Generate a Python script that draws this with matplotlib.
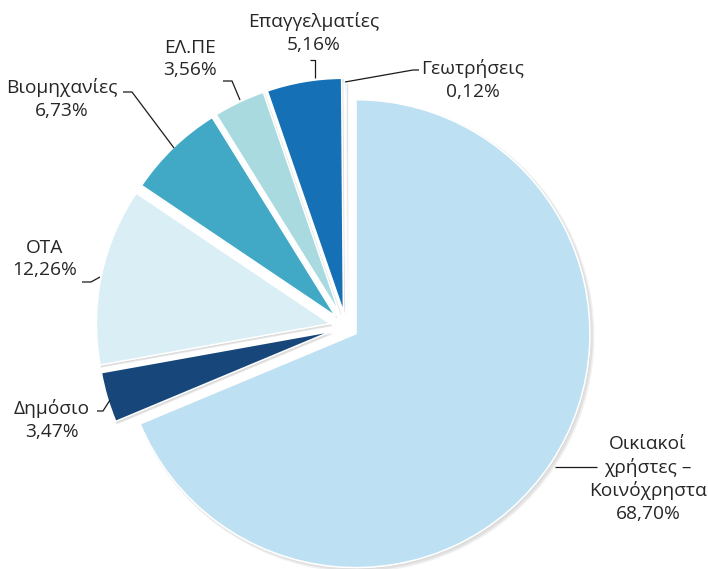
import matplotlib
matplotlib.use("Agg")
import matplotlib.pyplot as plt
import numpy as np

categories = ["Οικιακοί\nχρήστες –\nΚοινόχρηστα", "Δημόσιο", "ΟΤΑ", "Βιομηχανίες",
              "ΕΛ.ΠΕ", "Επαγγελματίες", "Γεωτρήσεις"]
values = [68.70, 3.47, 12.26, 6.73, 3.56, 5.16, 0.12]
pct_labels = ["68,70%", "3,47%", "12,26%", "6,73%", "3,56%", "5,16%", "0,12%"]
colors = ["#BDE0F3", "#17477A", "#DAEEF5", "#41A9C5", "#A9DAE0", "#1670B5", "#1B2A38"]
# explode offsets in pixel units (axes data units are pixels)
explode = [12, 15, 16, 15, 15, 15, 10]

plt.rcParams['font.family'] = ['Open Sans', 'DejaVu Sans']

W, H = 708, 569
fig = plt.figure(figsize=(W / 100, H / 100), dpi=100)
ax = fig.add_axes([0, 0, 1, 1])

cx, cy = 346, H - 327
R = 234

# soft shadow layers
for dx, dy, dr, a in [(2.5, -2.5, 2.0, 0.07), (2.0, -2.0, 1.0, 0.09), (1.0, -1.0, 0.0, 0.13)]:
    ax.pie(values, explode=explode, colors=["#404040"] * len(values), startangle=90,
           counterclock=False, radius=R + dr, center=(cx + dx, cy + dy), frame=True,
           wedgeprops=dict(linewidth=0, alpha=a))

ax.pie(values, explode=explode, colors=colors, startangle=90, counterclock=False,
       radius=R, center=(cx, cy), frame=True,
       wedgeprops=dict(edgecolor="white", linewidth=1.2))
ax.set_xlim(0, W)
ax.set_ylim(0, H)
ax.set_aspect('equal')
ax.axis('off')

tc = "#262626"
fs = 13.8

def txt(x, y, s, ha="center"):
    ax.text(x, H - y, s, ha=ha, va="center", fontsize=fs, color=tc, linespacing=1.3,
            fontstretch="normal")

def line(pts):
    xs = [p[0] for p in pts]
    ys = [H - p[1] for p in pts]
    ax.plot(xs, ys, color="#1a1a1a", lw=0.9, solid_capstyle="butt")

# labels (pixel coordinates, y measured from top)
txt(648, 479, categories[0] + "\n" + pct_labels[0])
line([(555, 467), (597, 467)])

txt(52, 420, categories[1] + "\n" + pct_labels[1])
line([(97, 411), (103, 411), (110, 400)])

txt(45, 259, categories[2] + "\n" + pct_labels[2])
line([(82, 282), (91, 282), (100, 277)])

txt(62, 99, categories[3] + "\n" + pct_labels[3])
line([(123, 92), (132, 92), (174, 148)])

txt(190, 59, categories[4] + "\n" + pct_labels[4])
line([(223, 81), (232, 81), (240, 100)])

txt(314, 33, categories[5] + "\n" + pct_labels[5])
line([(310, 60), (315, 60), (315, 78)])

txt(473, 80, categories[6] + "\n" + pct_labels[6])
line([(345, 82), (413, 70), (419, 70)])

fig.savefig("out.png", dpi=100, facecolor="white")
